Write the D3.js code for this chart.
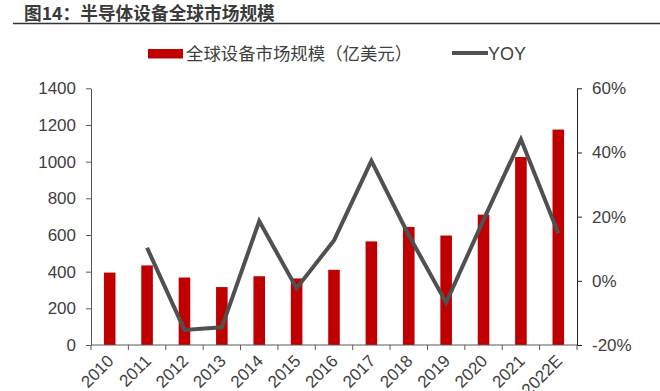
<!DOCTYPE html>
<html><head><meta charset="utf-8">
<script src="https://cdn.jsdelivr.net/npm/d3@7"></script>
<style>
html,body{margin:0;padding:0;background:#fff;}
svg{display:block;}
</style></head>
<body>
<svg id="chart" width="660" height="391"></svg>
<script>
const categories = ["2010","2011","2012","2013","2014","2015","2016","2017","2018","2019","2020","2021","2022E"];
const marketSize = [395, 434, 368, 316, 375, 363, 410, 565, 644, 597, 711, 1025, 1175];
const yoy = [null, 10.3, -15.3, -14.5, 18.6, -2.3, 12.6, 37.4, 14.2, -6.8, 19.0, 44.1, 14.8];
const leftTicks = [0, 200, 400, 600, 800, 1000, 1200, 1400];
const rightTicks = [-20, 0, 20, 40, 60];
const titleText = "图14：半导体设备全球市场规模";
const barLabel = "全球设备市场规模（亿美元）";
const lineLabel = "YOY";

const svg = d3.select("#chart");
const L = 91, R = 577, T = 88.3, B = 345;
const numFont = "'Liberation Sans', Arial, sans-serif";
const cjkFont = "'Liberation Sans', 'Noto Sans CJK SC', sans-serif";
const textColor = "#404040";

// title
svg.append("text").attr("x", 24).attr("y", 20)
  .attr("font-family", "'Noto Sans CJK SC', sans-serif").attr("font-weight", "bold")
  .attr("font-size", 17.7).attr("fill", "#3a3a3a").text(titleText);
svg.append("line").attr("x1", 13).attr("x2", 660).attr("y1", 23.5).attr("y2", 23.5)
  .attr("stroke", "#333").attr("stroke-width", 1.5);

const x = d3.scaleBand().domain(categories).range([L, R]).paddingInner(0.69).paddingOuter(0.345);
const xb = d3.scaleBand().domain(categories).range([L, R]);
const yL = d3.scaleLinear().domain([0, 1400]).range([B, T]);
const yR = d3.scaleLinear().domain([-20, 60]).range([B, T]);

// bars
svg.append("g").selectAll("rect").data(marketSize).join("rect")
  .attr("x", (d, i) => x(categories[i]))
  .attr("width", x.bandwidth())
  .attr("y", d => yL(d))
  .attr("height", d => yL(0) - yL(d))
  .attr("fill", "#c00000");

// left axis
const gL = svg.append("g").attr("transform", `translate(${L},0)`)
  .call(d3.axisLeft(yL).tickValues(leftTicks).tickFormat(d3.format("d")).tickSize(5).tickSizeOuter(0).tickPadding(10));
gL.select(".domain").attr("stroke", "#595959");
gL.selectAll(".tick line").attr("stroke", "#595959");
gL.selectAll("text").attr("font-family", numFont).attr("font-size", 17).attr("fill", textColor);

// right axis
const gR = svg.append("g").attr("transform", `translate(${R},0)`)
  .call(d3.axisRight(yR).tickValues(rightTicks).tickFormat(d => d + "%").tickSize(5).tickSizeOuter(0).tickPadding(10));
gR.select(".domain").attr("stroke", "#222");
gR.selectAll(".tick line").attr("stroke", "#222");
gR.selectAll("text").attr("font-family", numFont).attr("font-size", 17).attr("fill", textColor);

// bottom axis
const gB = svg.append("g").attr("transform", `translate(0,${B})`);
gB.append("line").attr("x1", L).attr("x2", R).attr("stroke", "#595959");
const boundaries = categories.map(c => xb(c)).concat([R]);
gB.selectAll("line.tk").data(boundaries).join("line").attr("class", "tk")
  .attr("x1", d => d).attr("x2", d => d).attr("y1", 0).attr("y2", 5).attr("stroke", "#595959");
gB.selectAll("text").data(categories).join("text")
  .attr("transform", d => `translate(${xb(d) + xb.bandwidth() / 2 + 5},${17}) rotate(-45)`)
  .attr("text-anchor", "end")
  .attr("font-family", numFont).attr("font-size", 17).attr("fill", textColor)
  .text(d => d);

// line
const line = d3.line()
  .defined(d => d != null)
  .x((d, i) => xb(categories[i]) + xb.bandwidth() / 2)
  .y(d => yR(d));
svg.append("path").datum(yoy).attr("d", line)
  .attr("fill", "none").attr("stroke", "#505050").attr("stroke-width", 4).attr("stroke-linejoin", "miter");

// legend
svg.append("rect").attr("x", 148).attr("y", 49).attr("width", 35).attr("height", 9.5).attr("fill", "#c00000");
svg.append("text").attr("x", 186).attr("y", 60).attr("font-family", cjkFont).attr("font-size", 17.4)
  .attr("fill", textColor).text(barLabel);
svg.append("line").attr("x1", 452).attr("x2", 488).attr("y1", 53).attr("y2", 53)
  .attr("stroke", "#505050").attr("stroke-width", 4);
svg.append("text").attr("x", 488).attr("y", 60).attr("font-family", numFont).attr("font-size", 18)
  .attr("fill", textColor).text(lineLabel);
</script>
</body></html>
